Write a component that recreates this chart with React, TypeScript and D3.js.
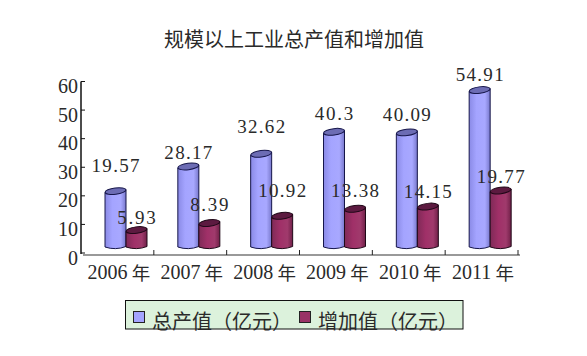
import React from "react";
import * as d3 from "d3";

const years = ["2006 年", "2007 年", "2008 年", "2009 年", "2010 年", "2011 年"];
const outputValues = [19.57, 28.17, 32.62, 40.3, 40.09, 54.91];
const addedValues = [5.93, 8.39, 10.92, 13.38, 14.15, 19.77];
const outputLabels = ["19.57", "28.17", "32.62", "40.3", "40.09", "54.91"];
const addedLabels = ["5.93", "8.39", "10.92", "13.38", "14.15", "19.77"];
const outputLabelLift = [26, 14, 27, 18, 18, 16];
const addedLabelLift = [13, 19, 25, 18, 15.5, 13.5];
const yTicks = [0, 10, 20, 30, 40, 50, 60];
const title = "规模以上工业总产值和增加值";
const legendNames = ["总产值（亿元）", "增加值（亿元）"];

const W = 587, H = 356;
const y = d3.scaleLinear().domain([0, 60]).range([253, 81.5]);
const x = d3.scaleBand().domain(years).range([81, 518]).paddingInner(0).paddingOuter(0);
const barW = 21;
const depth = 6;
const serif = "'Liberation Serif', serif";
const cjk = "'Noto Sans CJK SC', sans-serif";
const ink = "#2a2a2a";

function Cylinder({ cx, value, grad, top, stroke }: any) {
  const yTop = y(value) - depth;
  const yBot = y(0) - depth;
  const rx = barW / 2;
  const ry = 3.2;
  const tilt = 1.4;
  const p = d3.path();
  p.moveTo(cx - rx, yTop + tilt);
  p.lineTo(cx - rx, yBot);
  p.quadraticCurveTo(cx, yBot + ry * 1.1, cx + rx, yBot - 0.5);
  p.lineTo(cx + rx, yTop - tilt);
  p.closePath();
  return (
    <g>
      <path d={p.toString()} fill={`url(#${grad})`} stroke={stroke} strokeWidth={1} />
      <ellipse cx={cx} cy={yTop} rx={rx} ry={ry} transform={`rotate(-7 ${cx} ${yTop})`} fill={top} stroke={stroke} strokeWidth={1} />
    </g>
  );
}

function NumLabel({ cx, cy, text }: any) {
  // wide half-em full stop of the reference face: fit to a fixed advance per character
  return (
    <text x={cx} y={cy} textAnchor="middle" dominantBaseline="central" fontFamily={serif} fontSize={19}
      fill={ink} textLength={text.length * 9.6} lengthAdjust="spacing">{text}</text>
  );
}

export default function App() {
  return (
    <svg width={W} height={H} viewBox={`0 0 ${W} ${H}`} style={{ position: "absolute", left: 0, top: 0, background: "#fff" }}>
      <defs>
        <linearGradient id="blueG" x1="0" x2="1" y1="0" y2="0">
          <stop offset="0" stopColor="#8a8ae6" />
          <stop offset="0.35" stopColor="#a4a4ff" />
          <stop offset="0.75" stopColor="#a8a8ff" />
          <stop offset="1" stopColor="#7878cc" />
        </linearGradient>
        <linearGradient id="redG" x1="0" x2="1" y1="0" y2="0">
          <stop offset="0" stopColor="#7f2a57" />
          <stop offset="0.4" stopColor="#a03068" />
          <stop offset="0.75" stopColor="#a03a6c" />
          <stop offset="1" stopColor="#702048" />
        </linearGradient>
      </defs>

      <text x={294} y={38} textAnchor="middle" dominantBaseline="central" fontFamily={cjk} fontSize={20} fill={ink}>{title}</text>

      <line x1={81} x2={81} y1={y(60)} y2={y(0) + 1} stroke="#111" strokeWidth={1.5} />
      {yTicks.map(t => (
        <g key={t}>
          <line x1={81} x2={85} y1={y(t)} y2={y(t)} stroke="#111" />
          <text x={78} y={y(t) + 4.5} textAnchor="end" dominantBaseline="central" fontFamily={serif} fontSize={20} fill={ink}>{t}</text>
        </g>
      ))}
      <line x1={83} x2={520} y1={255} y2={255} stroke="#777" strokeWidth={1.5} />
      {years.map(c => (
        <line key={c} x1={x(c)! + x.bandwidth()} x2={x(c)! + x.bandwidth()} y1={250} y2={255} stroke="#222" />
      ))}

      {years.map((c, i) => {
        const left = x(c)! + 24;
        const cx1 = left + barW / 2;
        const cx2 = left + barW * 1.5;
        return (
          <g key={c}>
            <Cylinder cx={cx1} value={outputValues[i]} grad="blueG" top="#6c6cb4" stroke="#16164a" />
            <Cylinder cx={cx2} value={addedValues[i]} grad="redG" top="#5c1a40" stroke="#200818" />
          </g>
        );
      })}

      {years.map((c, i) => {
        const left = x(c)! + 24;
        const cx1 = left + barW / 2;
        const cx2 = left + barW * 1.5;
        return (
          <g key={c}>
            <NumLabel cx={cx1} cy={y(outputValues[i]) - depth - outputLabelLift[i]} text={outputLabels[i]} />
            <NumLabel cx={cx2} cy={y(addedValues[i]) - depth - addedLabelLift[i]} text={addedLabels[i]} />
            <text x={x(c)! + x.bandwidth() / 2 + 1.5} y={272} textAnchor="middle" dominantBaseline="central" fontFamily={cjk} fontSize={18.5} fill={ink}>
              <tspan fontFamily={serif} fontSize={20}>{c.split(" ")[0]}</tspan>
              <tspan> {c.split(" ")[1]}</tspan>
            </text>
          </g>
        );
      })}

      <rect x={125.5} y={300.5} width={337.5} height={28.5} fill="#dcf2dc" stroke="#111" strokeWidth={1} />
      <rect x={133.5} y={311.5} width={11} height={11} fill="#a4a4ff" stroke="#222" />
      <text x={152} y={320} textAnchor="start" dominantBaseline="central" fontFamily={cjk} fontSize={20} fill={ink}>{legendNames[0]}</text>
      <rect x={299.5} y={311.5} width={11} height={11} fill="#993366" stroke="#222" />
      <text x={318} y={320} textAnchor="start" dominantBaseline="central" fontFamily={cjk} fontSize={20} fill={ink}>{legendNames[1]}</text>
    </svg>
  );
}
